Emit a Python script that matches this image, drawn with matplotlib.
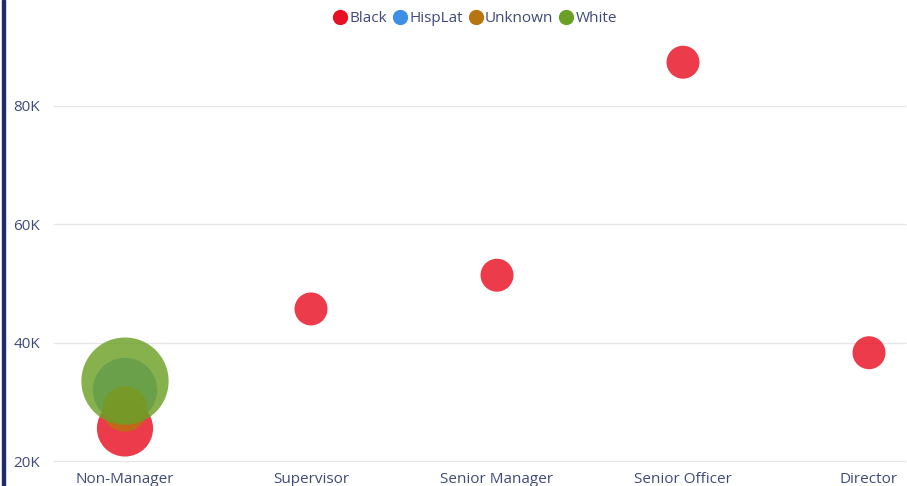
import matplotlib
matplotlib.use("Agg")
import matplotlib.pyplot as plt
from matplotlib.lines import Line2D
from matplotlib.patches import Rectangle

categories = ["Non-Manager", "Supervisor", "Senior Manager", "Senior Officer", "Director"]
series_names = ["Black", "HispLat", "Unknown", "White"]

# (category, value, headcount) per series
black_cats = ["Non-Manager", "Supervisor", "Senior Manager", "Senior Officer", "Director"]
black_vals = [25500, 45700, 51400, 87400, 38300]
black_size = [29, 10, 10, 10, 10]

hisplat_cats = ["Non-Manager"]
hisplat_vals = [32000]
hisplat_size = [38]

unknown_cats = ["Non-Manager"]
unknown_vals = [28800]
unknown_size = [19]

white_cats = ["Non-Manager"]
white_vals = [33500]
white_size = [70]

yticks = [20000, 40000, 60000, 80000]
ytick_labels = ["20K", "40K", "60K", "80K"]

colors = {"Black": "#E81123", "HispLat": "#3E8FE6", "Unknown": "#B8740E", "White": "#6BA026"}
text_color = "#3F4A7A"
font = ["Open Sans", "DejaVu Sans"]
plt.rcParams["font.family"] = font

W, H = 907, 486
fig = plt.figure(figsize=(W / 100, H / 100), dpi=100)
fig.patch.set_facecolor("white")

ax_left, ax_right, ax_bottom, ax_top = 54, 905, 461, 30
ax = fig.add_axes([ax_left / W, (H - ax_bottom) / H, (ax_right - ax_left) / W, (ax_bottom - ax_top) / H])

cat_index = {c: i for i, c in enumerate(categories)}
k = 56.4
series = [
    ("Black", black_cats, black_vals, black_size),
    ("HispLat", hisplat_cats, hisplat_vals, hisplat_size),
    ("Unknown", unknown_cats, unknown_vals, unknown_size),
    ("White", white_cats, white_vals, white_size),
]
for name, cats, vals, sizes in series:
    xs = [cat_index[c] for c in cats]
    ax.scatter(xs, vals, s=[v * k for v in sizes], color=colors[name], alpha=0.82,
               edgecolors="none", zorder=3)

ax.set_xlim(-0.3817, 4.1935)
ax.set_ylim(20000, 92845)
ax.set_xticks(range(len(categories)))
ax.set_xticklabels(categories)
ax.set_yticks(yticks)
ax.set_yticklabels(ytick_labels)
ax.tick_params(axis="both", length=0, labelsize=11, labelcolor=text_color)
ax.tick_params(axis="y", pad=10)
ax.tick_params(axis="x", pad=8)
for yt in yticks:
    ax.axhline(yt, color="#E6E6E6", linewidth=1.0, zorder=0, clip_on=False)
for sp in ax.spines.values():
    sp.set_visible(False)

handles = [Line2D([], [], marker="o", linestyle="none", markersize=11,
                  markerfacecolor=colors[n], markeredgecolor="none") for n in series_names]
fig.legend(handles, series_names, loc="center", bbox_to_anchor=(474 / W, 1 - 18.5 / H),
           ncol=4, frameon=False, handletextpad=0.0, columnspacing=0.25,
           handlelength=1.2, fontsize=11, labelcolor=text_color)

fig.add_artist(Rectangle((2 / W, 0), 3 / W, 1, transform=fig.transFigure,
                         color="#1F2B6B", zorder=10))

fig.savefig("out.png", dpi=100)
